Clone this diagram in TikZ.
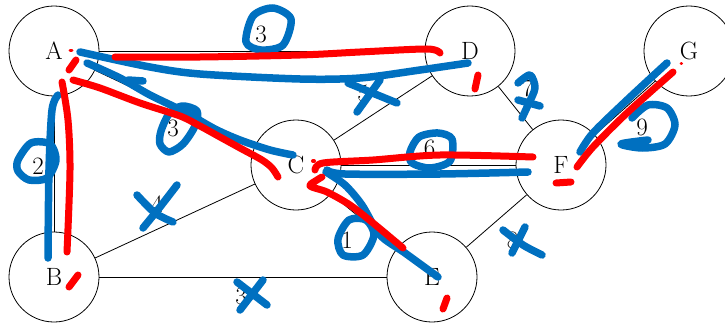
\documentclass[tikz,border=0pt]{standalone}
\usetikzlibrary{calc}
\definecolor{inkblue}{RGB}{0,112,192}
\definecolor{inkred}{RGB}{255,0,0}
\tikzset{
  vtx/.style={circle,draw,line width=0.8pt,minimum size=90pt,inner sep=0pt,font=\fontsize{25}{30}\selectfont},
  edge/.style={draw,line width=0.8pt},
  lbl/.style={font=\fontsize{25}{30}\selectfont,inner sep=0pt,midway},
  bstroke/.style={draw=inkblue,line width=7.5pt,line cap=round,line join=round},
  rstroke/.style={draw=inkred,line width=7pt,line cap=round,line join=round},
}
\begin{document}
\begin{tikzpicture}[x=1pt,y=-1pt]
\useasboundingbox (0,0) rectangle (725,329);
% vertices
\node[vtx] (A) at (54,51) {A};
\node[vtx] (D) at (470,51) {D};
\node[vtx] (G) at (689,51) {G};
\node[vtx] (C) at (296,165) {C};
\node[vtx] (F) at (561,165) {F};
\node[vtx] (B) at (54,277) {B};
\node[vtx] (E) at (432,277) {E};
% edges
\draw[edge] (A) -- node[lbl,xshift=-1pt,yshift=17pt]{3} (D);
\draw[edge] (A) -- node[lbl,xshift=-2pt,yshift=-20pt]{3} (C);
\draw[edge] (A) -- node[lbl,xshift=-16pt,yshift=-2pt]{2} (B);
\draw[edge] (B) -- node[lbl,xshift=-18pt,yshift=17pt]{4} (C);
\draw[edge] (B) -- node[lbl,xshift=-2pt,yshift=-19pt]{3} (E);
\draw[edge] (C) -- node[lbl,xshift=-20pt,yshift=15pt]{5} (D);
\draw[edge] (D) -- node[lbl,xshift=12pt,yshift=20pt]{7} (F);
\draw[edge] (C) -- node[lbl,xshift=1pt,yshift=17pt]{6} (F);
\draw[edge] (C) -- node[lbl,xshift=-17pt,yshift=-19pt]{1} (E);
\draw[edge] (E) -- node[lbl,xshift=16pt,yshift=-19pt]{8} (F);
\draw[edge] (F) -- node[lbl,xshift=17pt,yshift=-19pt]{9} (G);
% blue strokes
\draw[bstroke] plot[smooth] coordinates {(80,52) (150,67) (200,74) (300,79) (360,78) (420,70) (468,63)};
\draw[bstroke] plot[smooth] coordinates {(87,63) (120,78) (150,95) (185,112) (215,129) (240,140) (270,150) (293,155)};
\draw[bstroke] (128,80) -- (143,81);
\draw[bstroke] plot[smooth] coordinates {(58,95) (52,110) (49,170) (48,258)};
\draw[bstroke] plot[smooth] coordinates {(327,170) (345,174) (440,174) (528,172)};
\draw[bstroke] plot[smooth] coordinates {(326,172) (345,185) (362,205) (380,235) (405,253) (438,277)};
\draw[bstroke] plot[smooth] coordinates {(580,152) (593,133) (627,100) (667,63)};
% blue loops
\draw[bstroke] plot[smooth cycle] coordinates {(246,42) (253,16) (273,8) (291,19) (283,45) (261,50)};
\draw[bstroke] plot[smooth cycle] coordinates {(161,131) (169,114) (182,106) (197,111) (195,126) (183,144) (169,152) (160,144)};
\draw[bstroke] plot[smooth cycle] coordinates {(18,160) (31,143) (50,144) (56,160) (47,178) (29,180) (18,171)};
\draw[bstroke] plot[smooth cycle] coordinates {(410,152) (419,137) (438,133) (452,139) (450,161) (430,168) (412,163)};
\draw[bstroke] plot[smooth cycle] coordinates {(338,239) (349,220) (366,220) (374,235) (363,255) (343,255)};
\draw[bstroke] plot[smooth] coordinates {(632,118) (648,105) (667,108) (675,125) (665,144) (642,148) (621,144) (648,140)};
% blue crosses
\draw[bstroke] plot[smooth] coordinates {(137,195) (155,213) (173,222)};
\draw[bstroke] plot[smooth] coordinates {(177,185) (160,207) (143,228)};
\draw[bstroke] (237,282) -- (267,305);
\draw[bstroke] (263,280) -- (240,310);
\draw[bstroke] (348,83) -- (397,103);
\draw[bstroke] (380,80) -- (357,112);
\draw[bstroke] plot[smooth] coordinates {(518,83) (530,75) (535,88) (528,105) (522,118)};
\draw[bstroke] (518,100) -- (540,106);
\draw[bstroke] plot[smooth] coordinates {(503,230) (523,245) (542,255)};
\draw[bstroke] (525,227) -- (512,253);
% red strokes
\draw[rstroke] plot[smooth] coordinates {(115,57) (200,57) (300,55) (360,52) (427,49) (440,53)};
\draw[rstroke] plot[smooth] coordinates {(62,82) (68,120) (70,170) (67,252)};
\draw[rstroke] plot[smooth] coordinates {(73,80) (100,88) (140,103) (180,116) (200,126) (220,137) (240,148) (262,160) (272,168) (278,177)};
\draw[rstroke] plot[smooth] coordinates {(315,170) (323,163) (373,160) (440,155) (533,157)};
\draw[rstroke] plot[smooth] coordinates {(322,177) (317,180) (310,186) (327,192) (350,205) (373,223) (403,248)};
\draw[rstroke] plot[smooth] coordinates {(577,167) (593,147) (627,113) (673,72)};
% red marks
\draw[rstroke,line width=3pt] (70,51) -- (72,51);
\draw[rstroke] (76,60) -- (69,70);
\draw[rstroke] (78,275) -- (69,287);
\draw[rstroke,line width=4pt] (313,161) -- (314,161);
\draw[rstroke] (478,75) -- (475,89);
\draw[rstroke] (447,298) -- (443,309);
\draw[rstroke] (556,183) -- (571,182);
\draw[rstroke,line width=3pt] (681,64) -- (681.5,64);
\end{tikzpicture}
\end{document}
